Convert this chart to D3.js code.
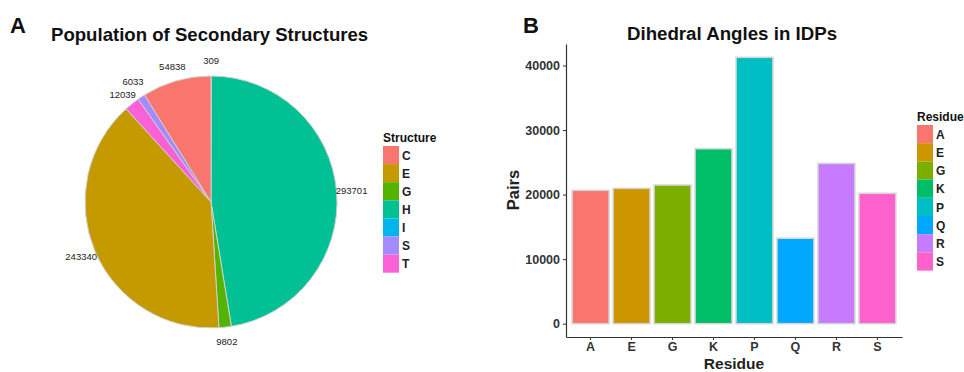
<!DOCTYPE html>
<html><head><meta charset="utf-8">
<script src="https://cdn.jsdelivr.net/npm/d3@7/dist/d3.min.js"></script>
<style>body{margin:0;background:#fff}svg{font-family:"Liberation Sans",Arial,sans-serif}</style>
</head><body><svg id="c" width="964" height="372"></svg>
<script>
// Panel A data
const structures = ["C","E","G","H","I","S","T"];
const structureCounts = [54838,243340,9802,293701,309,6033,12039];
const structureColors = ["#F8766D","#C49A00","#53B400","#00C094","#00B6EB","#A58AFF","#FB61D7"];
const pieOrder = ["I","H","G","E","T","S","C"]; // clockwise from 12 o'clock
// Panel B data
const residues = ["A","E","G","K","P","Q","R","S"];
const pairs = [20660,20970,21480,27100,41270,13240,24830,20200];
const residueColors = ["#F8766D","#CD9600","#7CAE00","#00BE67","#00BFC4","#00A9FF","#C77CFF","#FF61CC"];
const yTicks = [0,10000,20000,30000,40000];

const svg = d3.select("#c");
const txt = "#222";

// ---------- Panel A ----------
svg.append("text").attr("x",10).attr("y",33).attr("font-size",22).attr("font-weight","bold").attr("fill","#111").text("A");
svg.append("text").attr("x",51).attr("y",41).attr("font-size",18.6).attr("font-weight","bold").attr("fill","#111").text("Population of Secondary Structures");

const pieData = pieOrder.map(s => ({key:s, value:structureCounts[structures.indexOf(s)]}));
const pie = d3.pie().value(d=>d.value).sort(null);
const arcs = pie(pieData);
const R = 126, cx = 211, cy = 202;
const arc = d3.arc().innerRadius(0).outerRadius(R);
const labelArc = d3.arc().innerRadius(141).outerRadius(141);
const colA = d3.scaleOrdinal().domain(structures).range(structureColors);
const gA = svg.append("g").attr("transform",`translate(${cx},${cy})`);
gA.selectAll("path").data(arcs).join("path")
  .attr("d",arc).attr("fill",d=>colA(d.data.key))
  .attr("stroke","#d0d0d0").attr("stroke-width",1);
gA.selectAll("text").data(arcs).join("text")
  .attr("transform",d=>{const c=labelArc.centroid(d);return `translate(${c[0]},${c[1]})`;})
  .attr("text-anchor","middle").attr("dy",d=>d.data.key==="T"?"0.6em":(d.data.key==="S"?"0.1em":"0.35em"))
  .attr("font-size",9.5).attr("fill",txt)
  .text(d=>d.data.value);

// Legend A
const lgA = svg.append("g").attr("transform","translate(383,0)");
lgA.append("text").attr("x",0).attr("y",142).attr("font-size",12).attr("font-weight","bold").attr("fill","#111").text("Structure");
structures.forEach((s,i)=>{
  lgA.append("rect").attr("x",0).attr("y",146+i*18.1).attr("width",16).attr("height",18.1).attr("fill",colA(s));
  lgA.append("text").attr("x",19).attr("y",146+i*18.1+9.5).attr("dy","0.35em").attr("font-size",12).attr("font-weight","bold").attr("fill",txt).text(s);
});

// ---------- Panel B ----------
svg.append("text").attr("x",523).attr("y",33).attr("font-size",22).attr("font-weight","bold").attr("fill","#111").text("B");
svg.append("text").attr("x",732).attr("y",40).attr("text-anchor","middle").attr("font-size",18.7).attr("font-weight","bold").attr("fill","#111").text("Dihedral Angles in IDPs");

const x0 = 566, x1 = 902, yTop = 44, yBot = 337;
const maxV = d3.max(pairs);
const x = d3.scaleBand().domain(residues).range([x0,x1]).paddingInner(0.1).paddingOuter(0.15);
const y = d3.scaleLinear().domain([-0.05*maxV, 1.05*maxV]).range([yBot,yTop]);
const colB = d3.scaleOrdinal().domain(residues).range(residueColors);

svg.append("g").selectAll("rect").data(residues).join("rect")
  .attr("x",d=>x(d)).attr("width",x.bandwidth())
  .attr("y",(d,i)=>y(pairs[i])).attr("height",(d,i)=>y(0)-y(pairs[i]))
  .attr("fill",d=>colB(d)).attr("stroke","#d5d5d5").attr("stroke-width",1.5);

const yAxis = svg.append("g").attr("transform",`translate(${x0},0)`)
  .call(d3.axisLeft(y).tickValues(yTicks).tickSize(3).tickPadding(3).tickSizeOuter(0).tickFormat(d3.format("d")));
const xAxis = svg.append("g").attr("transform",`translate(0,${yBot})`)
  .call(d3.axisBottom(x).tickSize(3).tickSizeOuter(0));
[yAxis,xAxis].forEach(a=>{
  a.select(".domain").attr("stroke","#333").attr("stroke-width",1.2);
  a.selectAll(".tick line").attr("stroke","#333");
  a.selectAll(".tick text").attr("font-size",12.5).attr("font-weight","bold").attr("fill","#333").attr("font-family","Liberation Sans, Arial, sans-serif");
});
xAxis.selectAll(".tick text").attr("y",5).attr("dy","0.71em");
svg.append("text").attr("x",(x0+x1)/2).attr("y",368.5).attr("text-anchor","middle").attr("font-size",15.5).attr("font-weight","bold").attr("fill","#222").text("Residue");
svg.append("text").attr("transform","translate(519,190) rotate(-90)").attr("text-anchor","middle").attr("font-size",16.5).attr("font-weight","bold").attr("fill","#222").text("Pairs");

// Legend B
const lgB = svg.append("g").attr("transform","translate(917,0)");
lgB.append("text").attr("x",0).attr("y",121).attr("font-size",12).attr("font-weight","bold").attr("fill","#111").text("Residue");
residues.forEach((s,i)=>{
  lgB.append("rect").attr("x",0).attr("y",125+i*18.2).attr("width",16).attr("height",18.2).attr("fill",colB(s));
  lgB.append("text").attr("x",19).attr("y",125+i*18.2+9.5).attr("dy","0.35em").attr("font-size",12).attr("font-weight","bold").attr("fill",txt).text(s);
});
</script></body></html>
